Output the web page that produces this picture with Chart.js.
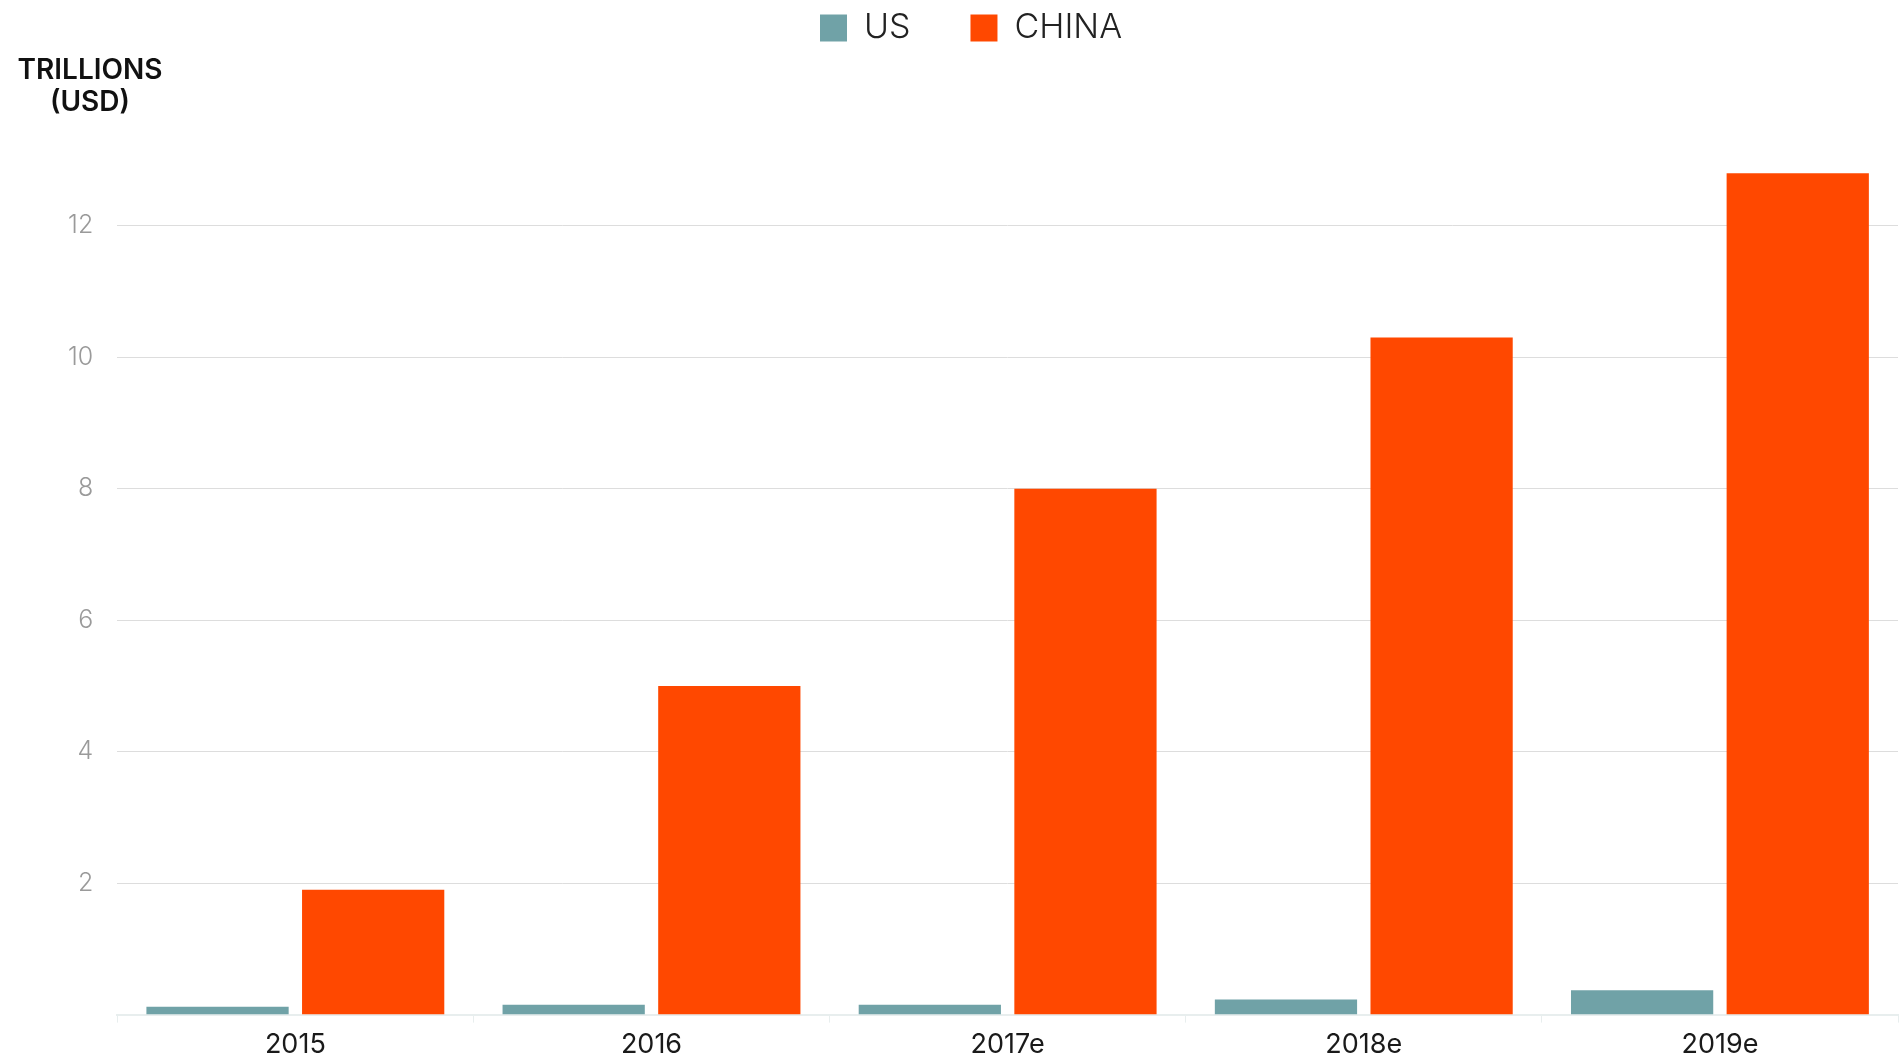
<!DOCTYPE html>
<html>
<head>
<meta charset="utf-8">
<script src="https://cdn.jsdelivr.net/npm/chart.js@4/dist/chart.umd.min.js"></script>
<style>
  html, body { margin: 0; padding: 0; background: #fff; }
  #wrap { width: 1903px; height: 1057px; position: relative; }
</style>
</head>
<body>
<div id="wrap"><canvas id="chart"></canvas></div>
<script>
const years = ['2015', '2016', '2017e', '2018e', '2019e'];
const usValues = [0.12, 0.15, 0.15, 0.23, 0.37];
const chinaValues = [1.9, 5.0, 8.0, 10.3, 12.8];
const yTicks = [2, 4, 6, 8, 10, 12];

const FONT = 'Inter, "Noto Sans", sans-serif';

// y axis title drawn top-left, two lines
const axisTitle = {
  id: 'axisTitle',
  afterDraw(chart) {
    const ctx = chart.ctx;
    ctx.save();
    ctx.fillStyle = '#111';
    ctx.font = '600 28px ' + FONT;
    ctx.textAlign = 'center';
    ctx.textBaseline = 'middle';
    ctx.fillText('TRILLIONS', 90, 71);
    ctx.fillText('(USD)', 90, 103);
    ctx.restore();
  }
};

new Chart(document.getElementById('chart').getContext('2d'), {
  type: 'bar',
  data: {
    labels: years,
    datasets: [
      { label: 'US', data: usValues, backgroundColor: '#70A2A7' },
      { label: 'CHINA', data: chinaValues, backgroundColor: '#FF4800' }
    ]
  },
  options: {
    responsive: true,
    maintainAspectRatio: false,
    animation: false,
    categoryPercentage: 0.874,
    barPercentage: 0.914,
    layout: { padding: { left: 44, right: 5, top: -49, bottom: -10 } },
    plugins: {
      legend: {
        position: 'top',
        labels: {
          boxWidth: 27, boxHeight: 27, padding: 60,
          color: '#222',
          font: { family: FONT, size: 34, weight: '300' }
        }
      },
      tooltip: { enabled: false }
    },
    scales: {
      x: {
        grid: { drawOnChartArea: false, drawTicks: true, tickLength: 8, color: '#e8eeee' },
        border: { color: '#e8eeee', width: 2 },
        ticks: { color: '#1a1a1a', padding: 6, font: { family: FONT, size: 27, weight: '400' } }
      },
      y: {
        min: 0,
        max: 14.6,
        afterBuildTicks: scale => { scale.ticks = yTicks.map(v => ({ value: v })); },
        grid: { color: '#dddddd', drawTicks: false },
        border: { display: false },
        ticks: { color: '#9a9a9a', padding: 24, font: { family: FONT, size: 25, weight: '300' } }
      }
    }
  },
  plugins: [axisTitle]
});
</script>
</body>
</html>
